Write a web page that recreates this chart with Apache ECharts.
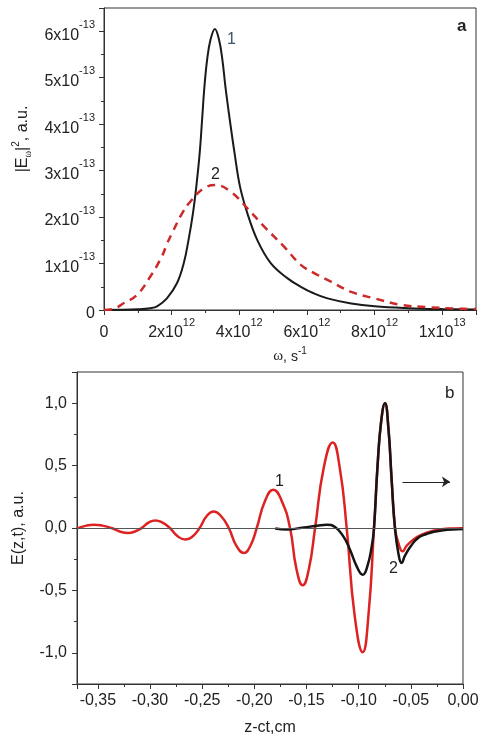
<!DOCTYPE html>
<html><head><meta charset="utf-8">
<script src="https://cdn.jsdelivr.net/npm/echarts@6/dist/echarts.min.js"></script>
<style>html,body{margin:0;padding:0;background:#fff}#c{width:483px;height:738px}</style>
</head><body><div id="c"></div>
<script>
const FONT = '"Liberation Sans", Arial, sans-serif';

// ---------- Panel a: spectra |E_w|^2 vs omega ----------
const omegaA1 = [0,0.5e12,1.0e12,1.37e12,1.57e12,1.86e12,2.16e12,2.36e12,2.5e12,2.63e12,2.73e12,2.83e12,2.9e12,2.97e12,3.05e12,3.15e12,3.28e12,3.4e12,3.5e12,3.59e12,3.72e12,3.86e12,4.02e12,4.24e12,4.53e12,4.93e12,5.43e12,5.82e12,6.2e12,6.61e12,7.31e12,8.0e12,9.0e12,10.0e12,11.0e12];
const specA1  = [0,0.003e-13,0.015e-13,0.04e-13,0.08e-13,0.25e-13,0.58e-13,1.01e-13,1.51e-13,2.08e-13,2.66e-13,3.38e-13,4.09e-13,4.81e-13,5.39e-13,5.82e-13,6.05e-13,5.82e-13,5.39e-13,4.81e-13,4.09e-13,3.38e-13,2.66e-13,2.08e-13,1.51e-13,1.01e-13,0.68e-13,0.50e-13,0.36e-13,0.25e-13,0.14e-13,0.08e-13,0.04e-13,0.02e-13,0.01e-13];
const omegaA2 = [0,0.3e12,0.57e12,0.97e12,1.37e12,1.71e12,1.86e12,2.01e12,2.31e12,2.55e12,2.95e12,3.3e12,3.74e12,4.24e12,4.73e12,5.33e12,5.82e12,6.2e12,6.71e12,7.31e12,8.0e12,8.79e12,9.58e12,10.47e12,11.0e12];
const specA2  = [0,0.03e-13,0.14e-13,0.32e-13,0.72e-13,1.15e-13,1.42e-13,1.65e-13,2.08e-13,2.33e-13,2.62e-13,2.69e-13,2.55e-13,2.19e-13,1.80e-13,1.36e-13,0.97e-13,0.80e-13,0.61e-13,0.39e-13,0.25e-13,0.11e-13,0.06e-13,0.03e-13,0.02e-13];

// ---------- Panel b: field E(z,t) vs z-ct ----------
const zB1 = [-0.370,-0.361,-0.354,-0.3455,-0.337,-0.329,-0.321,-0.3145,-0.308,-0.3015,-0.295,-0.288,-0.281,-0.2735,-0.266,-0.259,-0.2525,-0.2458,-0.239,-0.2318,-0.2245,-0.2173,-0.210,-0.2038,-0.1977,-0.1898,-0.1818,-0.1738,-0.1658,-0.1597,-0.1536,-0.1477,-0.1418,-0.1334,-0.1249,-0.1182,-0.1115,-0.1038,-0.0961,-0.0907,-0.0853,-0.0819,-0.0785,-0.0748,-0.0715,-0.0685,-0.0652,-0.0615,-0.0578,-0.054,-0.0477,-0.0396,-0.0285,-0.019,-0.010,0];
const eB1 = [-0.003,0.019,0.027,0.019,0,-0.028,-0.040,-0.028,0,0.043,0.061,0.043,0,-0.066,-0.093,-0.066,0,0.094,0.133,0.094,0,-0.142,-0.20,-0.142,0,0.217,0.306,0.217,0,-0.326,-0.459,-0.326,0,0.486,0.685,0.486,0,-0.706,-0.995,-0.706,0,0.5,0.85,1.0,0.8,0.4,0,-0.133,-0.187,-0.142,-0.094,-0.054,-0.022,-0.008,-0.004,-0.002];
const zB2 = [-0.180,-0.169,-0.156,-0.140,-0.1306,-0.1227,-0.1147,-0.1083,-0.1019,-0.0961,-0.0917,-0.0875,-0.0853,-0.0819,-0.0785,-0.0748,-0.0715,-0.0685,-0.0652,-0.062,-0.0589,-0.0555,-0.0501,-0.0431,-0.035,-0.028,-0.019,-0.010,0];
const eB2 = [-0.004,-0.013,0,0.018,0.027,0.008,-0.067,-0.174,-0.307,-0.374,-0.307,-0.147,0,0.5,0.85,1.0,0.8,0.4,0,-0.2,-0.28,-0.22,-0.147,-0.08,-0.048,-0.03,-0.019,-0.012,-0.008];

const zip = (xs, ys) => xs.map((x, i) => [x, ys[i]]);

const sup = (base, exp) => `{n|${base}}{s|${exp}}`;
const richSup = {
  n: {fontSize: 16, fontFamily: FONT, color: '#222', lineHeight: 24, verticalAlign: 'bottom'},
  s: {fontSize: 11, fontFamily: FONT, color: '#222', lineHeight: 11, verticalAlign: 'top'}
};
const axisCommon = {
  axisLine: {show: true, onZero: false, lineStyle: {color: '#333', width: 1}},
  axisTick: {show: true, inside: false, length: 5, lineStyle: {color: '#333'}},
  minorTick: {show: true, splitNumber: 2, length: 3, lineStyle: {color: '#333'}},
  splitLine: {show: false}
};

const chart = echarts.init(document.getElementById('c'), null, {renderer: 'canvas'});
chart.setOption({
  animation: false,
  backgroundColor: '#fff',
  grid: [
    {left: 104, top: 8, width: 372, height: 302, show: true, borderColor: '#333', borderWidth: 1},
    {left: 77, top: 372, width: 386, height: 312, show: true, borderColor: '#333', borderWidth: 1}
  ],
  xAxis: [
    Object.assign({}, axisCommon, {
      type: 'value', gridIndex: 0, min: 0, max: 1.1e13, interval: 2e12,
      axisLabel: {margin: 7, showMaxLabel: false, rich: richSup, color: '#222',
        formatter: v => {
          if (v === 0) return '{n|0}';
          const k = Math.round(v / 1e12);
          if (k >= 10) return sup(String(k / 10) + 'x10', '13');
          return sup(k + 'x10', '12');
        }},
      name: '{w|ω}{t|, s}{e|-1}', nameLocation: 'middle', nameGap: 36,
      nameTextStyle: {rich: {
        w: {fontSize: 15, fontFamily: '"Liberation Serif", serif', color: '#222', lineHeight: 18, verticalAlign: 'bottom'},
        t: {fontSize: 14, fontFamily: FONT, color: '#222', lineHeight: 18, verticalAlign: 'bottom'},
        e: {fontSize: 10, fontFamily: FONT, color: '#222', lineHeight: 10, verticalAlign: 'top'}
      }}
    }),
    Object.assign({}, axisCommon, {
      type: 'value', gridIndex: 1, min: -0.37, max: 0, splitNumber: 7,
      axisLabel: {margin: 9, showMinLabel: false, fontSize: 16, fontFamily: FONT, color: '#222',
        formatter: v => (Math.abs(v) < 1e-9 ? '0,00' : v.toFixed(2).replace('.', ','))},
      name: 'z-ct,cm', nameLocation: 'middle', nameGap: 36,
      nameTextStyle: {fontSize: 16, fontFamily: FONT, color: '#222'}
    })
  ],
  yAxis: [
    Object.assign({}, axisCommon, {
      type: 'value', gridIndex: 0, min: 0, max: 6.5e-13, interval: 1e-13,
      axisLabel: {margin: 9, showMaxLabel: false, rich: richSup, color: '#222',
        formatter: v => {
          const k = Math.round(v / 1e-13);
          if (k === 0) return '{n|0}';
          return sup(k + 'x10', '-13');
        }},
      name: '{n||E}{w|ω}{n||}{s|2}{n|, a.u.}', nameLocation: 'middle', nameGap: 56, nameRotate: 90,
      nameTextStyle: {padding: [0, 0, 0, 40], rich: {
        n: {fontSize: 16, fontFamily: FONT, color: '#222', lineHeight: 22, verticalAlign: 'middle'},
        w: {fontSize: 10, fontFamily: '"Liberation Serif", serif', color: '#222', lineHeight: 10, verticalAlign: 'bottom'},
        s: {fontSize: 10, fontFamily: FONT, color: '#222', lineHeight: 10, verticalAlign: 'top'}
      }}
    }),
    Object.assign({}, axisCommon, {
      type: 'value', gridIndex: 1, min: -1.25, max: 1.25, splitNumber: 5,
      axisLabel: {margin: 10, showMinLabel: false, showMaxLabel: false, fontSize: 16, fontFamily: FONT, color: '#222',
        formatter: v => (Math.abs(v) < 1e-9 ? '0,0' : v.toFixed(1).replace('.', ','))},
      name: 'E(z,t), a.u.', nameLocation: 'middle', nameGap: 50, nameRotate: 90,
      nameTextStyle: {fontSize: 16, fontFamily: FONT, color: '#222'}
    })
  ],
  series: [
    {type: 'line', xAxisIndex: 0, yAxisIndex: 0, data: zip(omegaA1, specA1), smooth: 0.4, z: 3,
      showSymbol: false, lineStyle: {color: '#1a1a1a', width: 2}},
    {type: 'line', xAxisIndex: 0, yAxisIndex: 0, data: zip(omegaA2, specA2), smooth: 0.4, z: 4,
      showSymbol: false, lineStyle: {color: '#cc2a2a', width: 2.5, type: [8, 6]}},
    {type: 'line', xAxisIndex: 1, yAxisIndex: 1, data: [], z: 1, showSymbol: false,
      markLine: {silent: true, symbol: 'none', label: {show: false},
        lineStyle: {color: '#555', width: 1.2, type: 'solid'}, data: [{yAxis: 0}]}},
    {type: 'line', xAxisIndex: 1, yAxisIndex: 1, data: zip(zB1, eB1), smooth: 0.5, z: 3,
      showSymbol: false, lineStyle: {color: '#dd2222', width: 2.5}},
    {type: 'line', xAxisIndex: 1, yAxisIndex: 1, data: zip(zB2, eB2), smooth: 0.5, z: 4,
      showSymbol: false, lineStyle: {color: '#151515', width: 2.5},
      markLine: {silent: true, symbol: ['none', 'arrow'], symbolSize: 8, label: {show: false},
        lineStyle: {color: '#222', width: 1, type: 'solid'},
        data: [[{coord: [-0.058, 0.37]}, {coord: [-0.0125, 0.37]}]]}}
  ],
  graphic: [
    {type: 'text', left: 457, top: 18, style: {text: 'a', font: 'bold 17px ' + FONT, fill: '#222'}},
    {type: 'text', left: 227, top: 32, style: {text: '1', font: '16px ' + FONT, fill: '#3d566e'}},
    {type: 'text', left: 211, top: 167, style: {text: '2', font: '16px ' + FONT, fill: '#222'}},
    {type: 'text', left: 445, top: 385, style: {text: 'b', font: '17px ' + FONT, fill: '#222'}},
    {type: 'text', left: 275, top: 474, style: {text: '1', font: '16px ' + FONT, fill: '#222'}},
    {type: 'text', left: 389, top: 561, style: {text: '2', font: '16px ' + FONT, fill: '#222'}}
  ]
});
</script>
</body></html>
